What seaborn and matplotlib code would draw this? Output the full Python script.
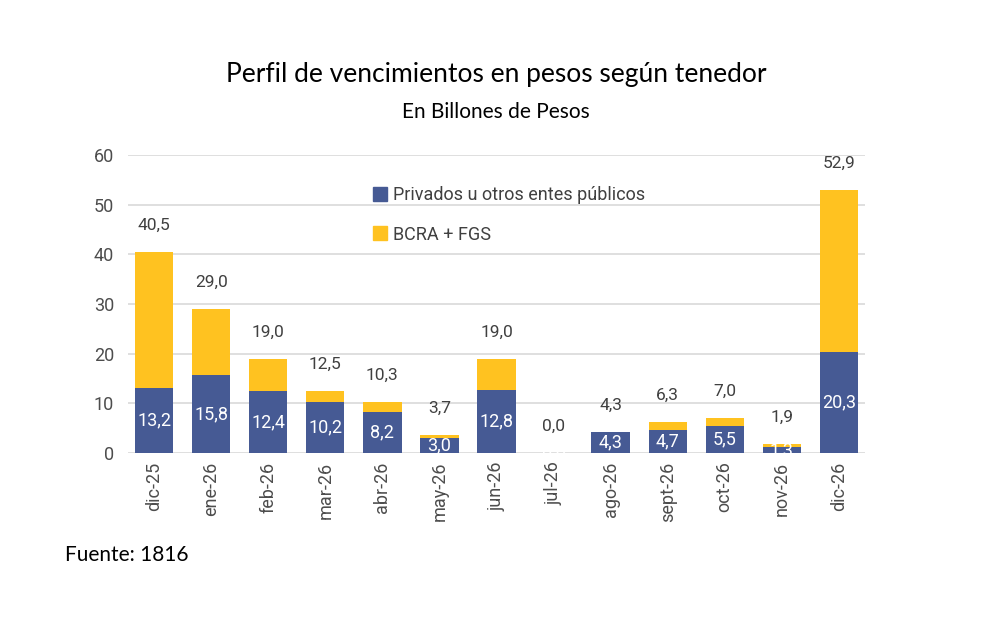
import matplotlib
matplotlib.use("Agg")
import matplotlib.pyplot as plt
import seaborn as sns
import pandas as pd
from matplotlib.patches import Patch

meses = ['dic-25', 'ene-26', 'feb-26', 'mar-26', 'abr-26', 'may-26', 'jun-26',
         'jul-26', 'ago-26', 'sept-26', 'oct-26', 'nov-26', 'dic-26']
privados = [13.2, 15.8, 12.4, 10.2, 8.2, 3.0, 12.8, 0.0, 4.3, 4.7, 5.5, 1.3, 20.3]
totales = [40.5, 29.0, 19.0, 12.5, 10.3, 3.7, 19.0, 0.0, 4.3, 6.3, 7.0, 1.9, 52.9]

AZUL = '#465A94'
AMARILLO = '#FFC220'
GRIS = '#404040'

df = pd.DataFrame({'mes': meses, 'privados': privados, 'total': totales})

sns.set_style('white')
plt.rcParams['font.family'] = ['Roboto', 'Liberation Sans', 'DejaVu Sans']
TITULO_FONT = ['Lato', 'Liberation Sans', 'DejaVu Sans']

fig = plt.figure(figsize=(9.92, 6.32), dpi=100)
ax = fig.add_axes([0.129, 0.283, 0.743, 0.472])

# total (amarillo) detras, privados (azul) delante -> apilado
sns.barplot(data=df, x='mes', y='total', color=AMARILLO, width=0.67,
            saturation=1, ax=ax, linewidth=0)
sns.barplot(data=df, x='mes', y='privados', color=AZUL, width=0.67,
            saturation=1, ax=ax, linewidth=0)

ax.set_ylim(0, 60)
ax.set_xlim(-0.46, len(meses) - 0.54)
ax.set_yticks(range(0, 61, 10))
ax.yaxis.grid(True, color='#D9D9D9', linewidth=1.2)
ax.set_axisbelow(True)
sns.despine(ax=ax, left=True, bottom=True)
ax.set_xlabel('')
ax.set_ylabel('')
ax.tick_params(axis='y', labelsize=13, labelcolor='#4D4D4D', length=0, pad=10)
ax.tick_params(axis='x', labelsize=13, labelcolor='#4D4D4D', length=0, pad=6)
plt.setp(ax.get_xticklabels(), rotation=90)

def fmt(v):
    return f'{v:.1f}'.replace('.', ',')

for i, (p, t) in enumerate(zip(privados, totales)):
    ax.text(i, t + 5.4, fmt(t), ha='center', va='center', fontsize=12.5, color=GRIS)
    ax.text(i, p / 2, fmt(p), ha='center', va='center', fontsize=13,
            color='white')

handles = [Patch(color=AZUL, label='Privados u otros entes públicos'),
           Patch(color=AMARILLO, label='BCRA + FGS')]
ax.legend(handles=handles, loc='upper left', bbox_to_anchor=(0.31, 0.95),
          frameon=False, fontsize=13, labelcolor=GRIS, handlelength=0.8,
          handleheight=0.8, handletextpad=0.35, labelspacing=1.2)

fig.text(0.5, 0.882, 'Perfil de vencimientos en pesos según tenedor',
         ha='center', va='center', fontsize=19, color='black', family=TITULO_FONT)
fig.text(0.5, 0.823, 'En Billones de Pesos', ha='center', va='center',
         fontsize=15, color='black', family=TITULO_FONT)
fig.text(0.066, 0.122, 'Fuente: 1816', ha='left', va='center', fontsize=15,
         color='black', family=TITULO_FONT)

fig.savefig('out.png', dpi=100)
